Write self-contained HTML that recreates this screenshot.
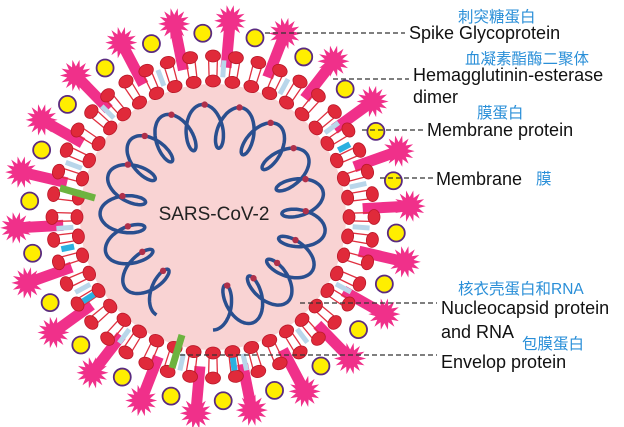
<!DOCTYPE html>
<html><head><meta charset="utf-8"><style>
html,body{margin:0;padding:0;background:#fff;width:624px;height:427px;overflow:hidden}
svg{display:block}
.en{font-family:"Liberation Sans",sans-serif;font-size:18px;fill:#111}
.cn{font-family:"Liberation Sans","Noto Sans CJK SC",sans-serif;font-size:15.5px;fill:#2a8fd8}
</style></head><body>
<svg id="s" width="624" height="427" viewBox="0 0 624 427" xmlns="http://www.w3.org/2000/svg">
<g id="g"></g>
<text x="214" y="220" text-anchor="middle" font-family="Liberation Sans,sans-serif" font-size="19" fill="#222">SARS-CoV-2</text>
<g stroke="#333" stroke-width="1.3" stroke-dasharray="5,3" fill="none">
<line x1="265" y1="33" x2="405" y2="33"/>
<line x1="333" y1="79" x2="409" y2="79"/>
<line x1="362" y1="130" x2="425" y2="130"/>
<line x1="380" y1="178" x2="434" y2="178"/>
<line x1="300" y1="303" x2="437" y2="303"/>
<line x1="180" y1="355" x2="437" y2="355"/>
</g>
<text class="cn" x="458" y="22">刺突糖蛋白</text>
<text class="en" x="409" y="39">Spike Glycoprotein</text>
<text class="cn" x="465" y="64">血凝素酯酶二聚体</text>
<text class="en" x="413" y="81">Hemagglutinin-esterase</text>
<text class="en" x="413" y="103">dimer</text>
<text class="cn" x="477" y="118">膜蛋白</text>
<text class="en" x="427" y="136">Membrane protein</text>
<text class="en" x="436" y="185">Membrane</text>
<text class="cn" x="536" y="184">膜</text>
<text class="cn" x="458" y="294">核衣壳蛋白和RNA</text>
<text class="en" x="441" y="314">Nucleocapsid protein</text>
<text class="en" x="441" y="338">and RNA</text>
<text class="cn" x="522" y="349">包膜蛋白</text>
<text class="en" x="441" y="368">Envelop protein</text>
</svg>
<script>
var g=document.getElementById('g'),NS='http://www.w3.org/2000/svg',cx=213,cy=217;
function el(t,a){var e=document.createElementNS(NS,t);for(var k in a)e.setAttribute(k,a[k]);g.appendChild(e);return e;}
function P(r,a){return [cx+r*Math.cos(a),cy+r*Math.sin(a)];}
var D=Math.PI/180;
var NS_=22;
for(var i=0;i<NS_;i++){var a=(i*360/NS_-85)*D;
 var p1=P(140,a),p2=P(190,a);
 el('line',{x1:p1[0],y1:p1[1],x2:p2[0],y2:p2[1],stroke:'#f0308a','stroke-width':11});
 var c=P(197,a),pts=[];for(var k=0;k<28;k++){var rr=k%2?9:16,b=k*(360/28)*D;pts.push((c[0]+rr*Math.cos(b)).toFixed(1)+','+(c[1]+rr*Math.sin(b)).toFixed(1));}
 el('polygon',{points:pts.join(' '),fill:'#f0308a'});
}
el('circle',{cx:cx,cy:cy,r:150,fill:'#fff'});
el('circle',{cx:cx,cy:cy,r:133,fill:'#f9d3d3'});
var NM=44;
for(var i=0;i<NM;i++){var a=(i*360/NM)*D;
 for(var d=-1;d<=1;d+=2){var aa=a+d*1.6*D;var q1=P(137,aa),q2=P(160,aa);
  el('line',{x1:q1[0],y1:q1[1],x2:q2[0],y2:q2[1],stroke:'#e03040','stroke-width':1.3});}
 if(i%3==0){var b1=P(140,a+4*D),b2=P(157,a+4*D);el('line',{x1:b1[0],y1:b1[1],x2:b2[0],y2:b2[1],stroke:'#b9d6ea','stroke-width':5});}
}
for(var i=0;i<NM;i++){var a=(i*360/NM)*D;
 [136,161].forEach(function(r){var q=P(r,a);el('ellipse',{cx:q[0],cy:q[1],rx:7.5,ry:6,fill:'#e02a3a',stroke:'#b81828','stroke-width':0.8,transform:'rotate('+(a/D+90)+' '+q[0]+' '+q[1]+')'});});
}
[ -28, 168, 147, 82].forEach(function(d){var a=d*D,p1=P(142,a),p2=P(155,a);el('line',{x1:p1[0],y1:p1[1],x2:p2[0],y2:p2[1],stroke:'#2bb0e0','stroke-width':6});});
for(var i=0;i<NS_;i++){var a=((i+0.5)*360/NS_-85)*D;var q=P(184,a);
 el('circle',{cx:q[0],cy:q[1],r:8.5,fill:'#ffee00',stroke:'#5a2a80','stroke-width':1.8});}
[[60,188,95,198],[182,335,172,368]].forEach(function(l){el('line',{x1:l[0],y1:l[1],x2:l[2],y2:l[3],stroke:'#6db33f','stroke-width':7});});
var d='',dots=[];var a0=120,a1=450,N=1200,loops=16;
for(var k=0;k<=N;k++){var t=k/N,th=(a0+(a1-a0)*t)*D,phi=t*loops*2*Math.PI;
 var rad=91+22*Math.cos(phi),tan=10*Math.sin(phi);
 var x=cx+rad*Math.cos(th)-tan*Math.sin(th);
 var y=cy+rad*Math.sin(th)+tan*Math.cos(th);
 d+=(k?'L':'M')+x.toFixed(1)+' '+y.toFixed(1);
 if(k%71==30)dots.push([x,y]);}
el('path',{d:d,fill:'none',stroke:'#2a4f8f','stroke-width':3.5});
dots.forEach(function(p){el('circle',{cx:p[0],cy:p[1],r:3.2,fill:'#b0304a'});});
</script>
</body></html>
